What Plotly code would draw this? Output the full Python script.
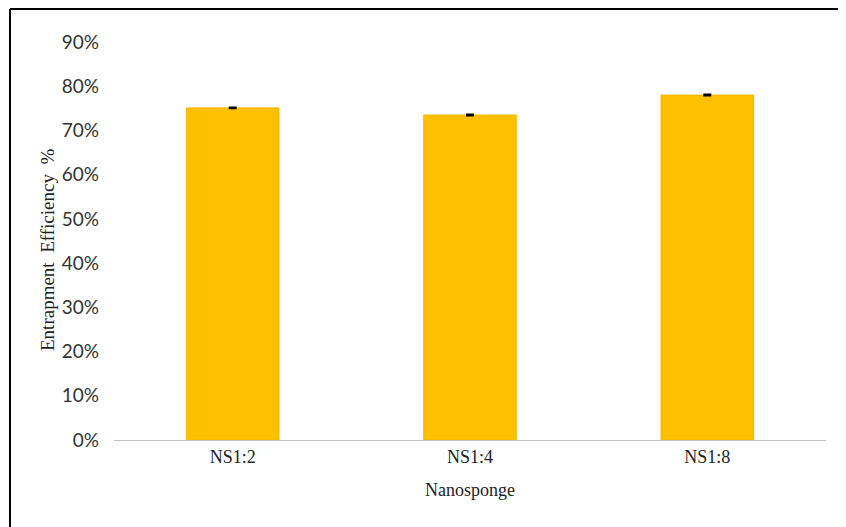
import plotly.graph_objects as go

categories = ["NS1:2", "NS1:4", "NS1:8"]
values = [0.751, 0.735, 0.780]
errors = [0.001, 0.001, 0.001]
y_ticks = [0, 0.1, 0.2, 0.3, 0.4, 0.5, 0.6, 0.7, 0.8, 0.9]
y_tick_labels = ["0%", "10%", "20%", "30%", "40%", "50%", "60%", "70%", "80%", "90%"]

# page body has an 8px margin; figure is sized to fill the rest of the window
OFF = 8
W, H = 846 - OFF, 527 - OFF
L, R, T, B = 114 - OFF, 20, 42 - OFF, 87

fig = go.Figure()
fig.add_trace(go.Bar(
    x=categories, y=values,
    marker=dict(color="#FFC000", line=dict(color="#F2B700", width=1)),
    error_y=dict(type="data", array=errors, visible=True, color="#000000",
                 thickness=2, width=4),
    width=0.39,
))

pw = W - L - R
ph = H - T - B
def px_x(p):
    return (p - OFF - L) / pw
def px_y(p):
    return (H - B - (p - OFF)) / ph

fig.update_layout(
    width=W, height=H,
    margin=dict(l=L, r=R, t=T, b=B),
    paper_bgcolor="white", plot_bgcolor="white",
    showlegend=False,
    font=dict(family="Liberation Serif", color="#222222"),
    xaxis=dict(
        showline=True, linecolor="#BFBFBF", linewidth=1,
        ticks="", tickfont=dict(family="Liberation Serif", size=18, color="#222222"),
        showgrid=False, zeroline=False,
    ),
    yaxis=dict(
        range=[0, 0.9], tickvals=y_ticks, ticktext=y_tick_labels,
        tickfont=dict(family="Lato", size=19, color="#333333"),
        showgrid=False, zeroline=False, showline=False, ticks="",
        ticklabelstandoff=14,
    ),
    annotations=[
        dict(text="Nanosponge", x=0.5, y=px_y(490), xref="paper", yref="paper",
             showarrow=False, font=dict(family="Liberation Serif", size=18, color="#222222"),
             xanchor="center", yanchor="middle"),
        dict(text="Entrapment  Efficiency  %", x=px_x(47), y=px_y(250), xref="paper", yref="paper",
             showarrow=False, textangle=-90,
             font=dict(family="Liberation Serif", size=19, color="#222222"),
             xanchor="center", yanchor="middle"),
    ],
    shapes=[
        dict(type="line", xref="paper", yref="paper", x0=px_x(10), x1=px_x(846),
             y0=px_y(9), y1=px_y(9), line=dict(color="#000000", width=2)),
        dict(type="line", xref="paper", yref="paper", x0=px_x(10), x1=px_x(10),
             y0=px_y(9), y1=px_y(527), line=dict(color="#000000", width=2)),
    ],
)

fig.write_html("out.html")
